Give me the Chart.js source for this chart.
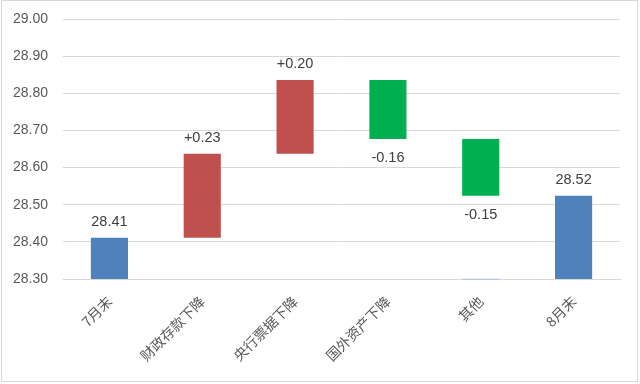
<!DOCTYPE html>
<html>
<head>
<meta charset="utf-8">
<script src="https://cdn.jsdelivr.net/npm/chart.js@4"></script>
<style>
  html, body { margin: 0; padding: 0; background: #fff; }
  #wrap { position: relative; width: 640px; height: 384px; }
  #frame { position: absolute; left: 1px; top: 0px; width: 637px; height: 382px; border: 1px solid #D9D9D9; box-sizing: border-box; pointer-events: none; }
  canvas { display: block; }
</style>
</head>
<body>
<div id="wrap">
  <canvas id="c" width="640" height="384"></canvas>
  <div id="frame"></div>
</div>
<script>
// Categories
const categories = ['7月末', '财政存款下降', '央行票据下降', '国外资产下降', '其他', '8月末'];
// Bar bottoms and tops
const barLow  = [28.30, 28.411, 28.637, 28.677, 28.524, 28.30];
const barHigh = [28.411, 28.637, 28.836, 28.836, 28.677, 28.524];
// Label texts
const valueLabels = ['28.41', '+0.23', '+0.20', '-0.16', '-0.15', '28.52'];
// Kind of each bar: total / increase / decrease
const barKind = ['total', 'up', 'up', 'down', 'down', 'total'];
// Small residual mark under 其他
const residualLow  = [null, null, null, null, 28.298, null];
const residualHigh = [null, null, null, null, 28.301, null];
// Y-axis ticks
const yMin = 28.30, yMax = 29.00, yStep = 0.10;

const kindColor = { total: '#4F81BD', up: '#C0504D', down: '#00B050' };

const labelPlugin = {
  id: 'valueLabels',
  afterDatasetsDraw(chart) {
    const ctx = chart.ctx;
    const meta = chart.getDatasetMeta(0);
    const ys = chart.scales.y;
    ctx.save();
    ctx.font = '14.5px "Liberation Sans", Arial, sans-serif';
    ctx.fillStyle = '#404040';
    ctx.textAlign = 'center';
    meta.data.forEach((bar, i) => {
      const x = bar.x;
      if (barKind[i] === 'down') {
        ctx.textBaseline = 'top';
        ctx.fillText(valueLabels[i], x, ys.getPixelForValue(barLow[i]) + 12);
      } else {
        ctx.textBaseline = 'bottom';
        ctx.fillText(valueLabels[i], x, ys.getPixelForValue(barHigh[i]) - 9);
      }
    });
    ctx.restore();
  }
};

new Chart(document.getElementById('c'), {
  type: 'bar',
  data: {
    labels: categories,
    datasets: [
      {
        data: categories.map((_, i) => [barLow[i], barHigh[i]]),
        backgroundColor: barKind.map(k => kindColor[k]),
        borderWidth: 0,
        barPercentage: 0.8,
        categoryPercentage: 0.5,
        grouped: false
      },
      {
        data: categories.map((_, i) => residualLow[i] === null ? null : [residualLow[i], residualHigh[i]]),
        backgroundColor: '#A9C0E3',
        borderWidth: 0,
        barPercentage: 0.8,
        categoryPercentage: 0.5,
        grouped: false,
        clip: 4
      }
    ]
  },
  options: {
    responsive: false,
    animation: false,
    layout: { padding: { top: 19, right: 20, left: 0, bottom: 0 } },
    plugins: { legend: { display: false }, tooltip: { enabled: false } },
    scales: {
      x: {
        grid: { display: false, drawTicks: false },
        border: { display: true, color: '#D9D9D9', width: 1 },
        ticks: {
          color: '#595959',
          font: { family: '"Noto Sans CJK SC", sans-serif', size: 14 },
          minRotation: 45, maxRotation: 45, padding: 14, autoSkip: false
        },
        afterFit(scale) { scale.height = 105; }
      },
      y: {
        min: yMin, max: yMax,
        grid: { color: '#D9D9D9', drawTicks: true, tickLength: 15, tickColor: 'rgba(0,0,0,0)' },
        border: { display: false },
        ticks: {
          stepSize: yStep,
          color: '#595959',
          padding: 0,
          font: { family: '"Liberation Sans", Arial, sans-serif', size: 14 },
          callback: v => v.toFixed(2)
        },
        afterFit(scale) { scale.width = 63; }
      }
    }
  },
  plugins: [labelPlugin]
});
</script>
</body>
</html>
